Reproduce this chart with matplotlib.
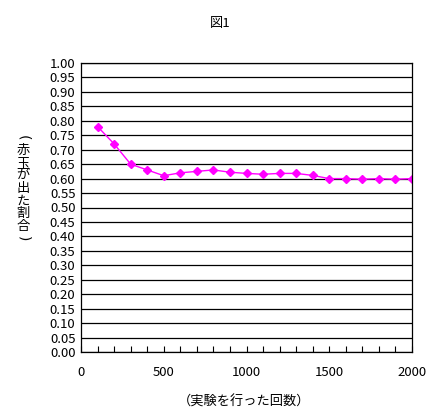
import matplotlib
matplotlib.use("Agg")
import matplotlib.pyplot as plt
import numpy as np

plt.rcParams['font.family'] = ['Noto Sans CJK JP', 'DejaVu Sans']

# 実験回数と赤玉が出た割合
trials = [100, 200, 300, 400, 500, 600, 700, 800, 900, 1000,
          1100, 1200, 1300, 1400, 1500, 1600, 1700, 1800, 1900, 2000]
ratio = [0.78, 0.72, 0.65, 0.63, 0.61, 0.62, 0.625, 0.63, 0.622, 0.618,
         0.615, 0.618, 0.618, 0.611, 0.60, 0.60, 0.598, 0.60, 0.598, 0.60]

title = "図1"
xlabel = "（実験を行った回数）"
ylabel_chars = ["(", "赤", "玉", "が", "出", "た", "割", "合", ")"]

fig = plt.figure(figsize=(4.44, 4.18), dpi=100)
ax = fig.add_axes([81/444, 66/418, 331/444, 289/418])

ax.plot(trials, ratio, color='#FF00FF', lw=1, marker='D', ms=4.5, mec='#FF00FF', mfc='#FF00FF')

ax.set_xlim(0, 2000)
ax.set_ylim(0, 1.0)
ax.set_yticks(np.arange(0, 1.0001, 0.05))
ax.set_yticklabels(["%.2f" % v for v in np.arange(0, 1.0001, 0.05)])
ax.set_xticks([0, 500, 1000, 1500, 2000])
ax.set_xticks(np.arange(0, 2001, 100), minor=True)
ax.grid(axis='y', color='black', lw=0.9)
ax.set_axisbelow(True)

ax.tick_params(axis='x', direction='in', length=4, width=0.8, labelsize=9.5, pad=10)
ax.tick_params(axis='x', which='minor', direction='in', length=4, width=0.8)
ax.tick_params(axis='y', length=0, labelsize=9.5, pad=4)
for s in ax.spines.values():
    s.set_color('black')
    s.set_linewidth(0.9)

fig.text(220/444, 1 - 23/418, title, ha='center', va='center', fontsize=9.5)
fig.text(244/444, 1 - 402/418, xlabel, ha='center', va='center', fontsize=9.5)

# 縦書きの軸ラベル（括弧は回転させる）
for i, ch in enumerate(ylabel_chars):
    if ch in "()":
        fig.text(23/444, 1 - (138 + i*12.6)/418, ch, ha='center', va='center',
                 fontsize=10, rotation=-90, family='DejaVu Sans')
    else:
        fig.text(23/444, 1 - (138 + i*12.6)/418, ch, ha='center', va='center',
                 fontsize=9.5)

fig.savefig("out.png", dpi=100)
